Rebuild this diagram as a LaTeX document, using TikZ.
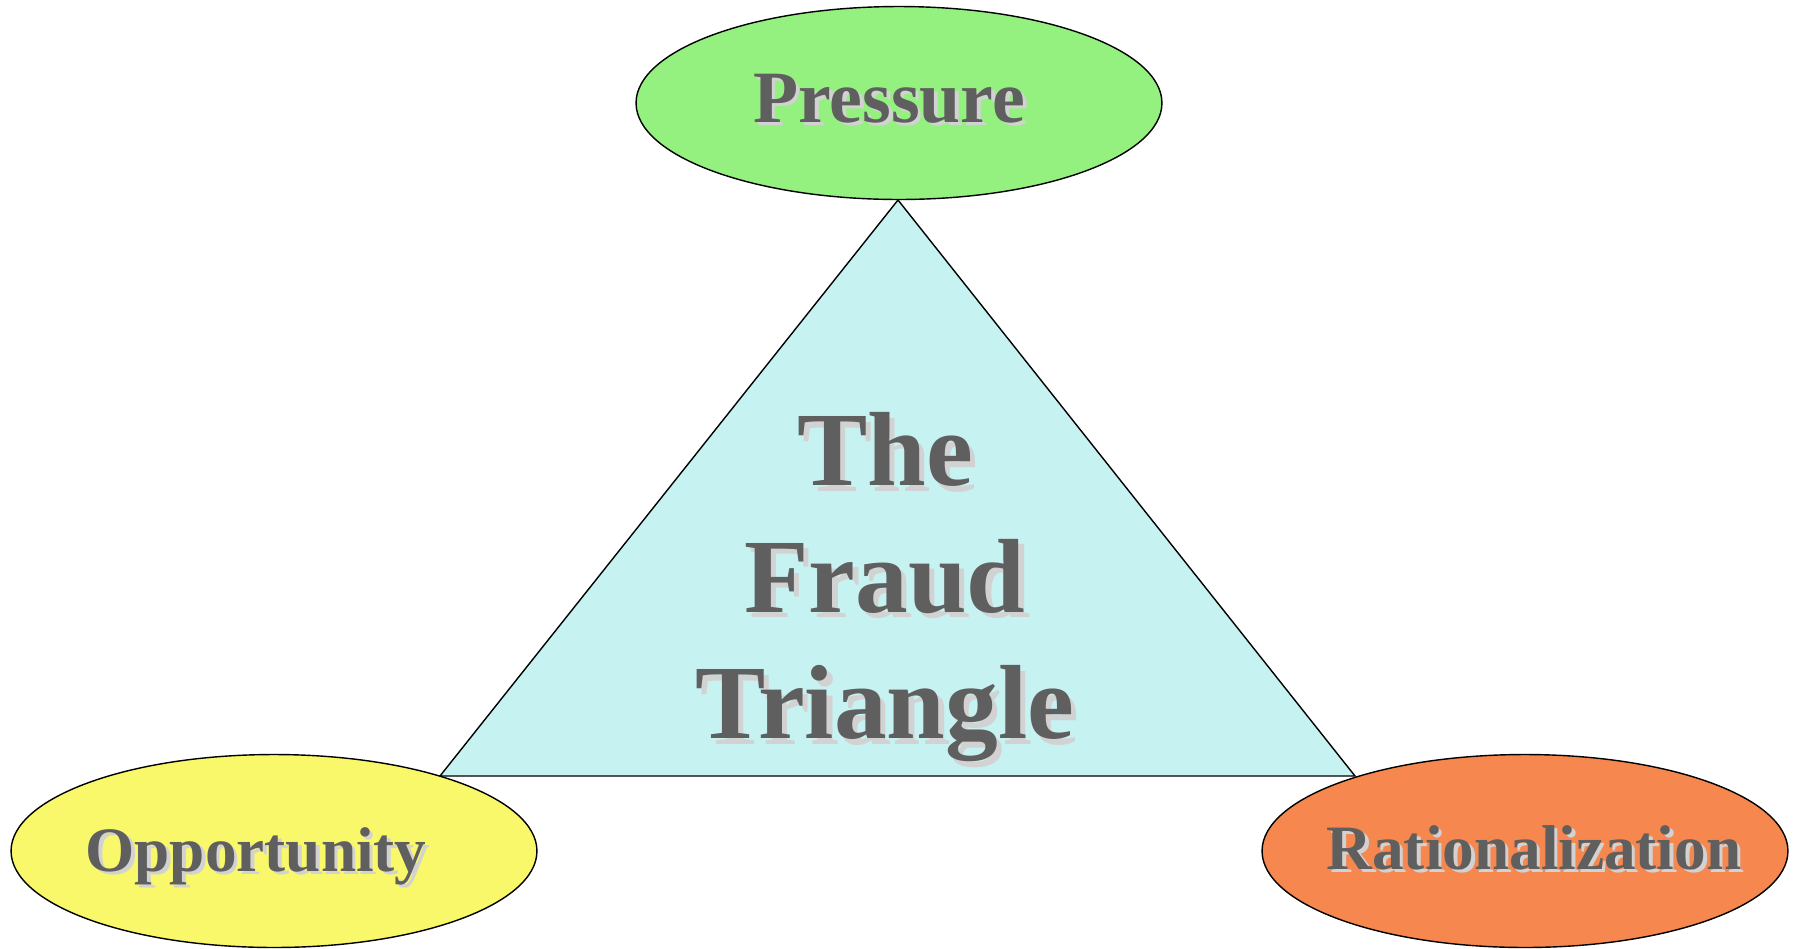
\documentclass[tikz,border=0pt]{standalone}
\usepackage{fontspec}
\setmainfont{Liberation Serif}
\usetikzlibrary{shapes.geometric}
\definecolor{textgray}{HTML}{5F5F5F}
\definecolor{shadegray}{HTML}{D2D2D2}
\definecolor{pressgreen}{HTML}{94F07F}
\definecolor{oppyellow}{HTML}{F8F86A}
\definecolor{ratorange}{HTML}{F5874F}
\definecolor{tricyan}{HTML}{C6F2F2}
\newcommand{\shtext}[2]{\rlap{\kern#1\raisebox{-#1}{\textcolor{shadegray}{#2}}}#2}

\begin{document}
\begin{tikzpicture}[x=0.02cm,y=-0.02cm,
    corner/.style={ellipse,draw,line width=0.8pt,minimum width=10.52cm,minimum height=3.86cm,inner sep=0pt},
    cornertext/.style={anchor=base,inner sep=0pt,text=textgray,font=\bfseries\fontsize{36}{42}\selectfont}]
    \useasboundingbox (0,0) rectangle (1800,948);

    \coordinate (apex) at (898,200);
    \coordinate (baseL) at (440,776);
    \coordinate (baseR) at (1355,776);
    \draw[fill=tricyan,line width=0.8pt] (apex) -- (baseL) -- (baseR) -- cycle;

    \node[corner,fill=pressgreen] (pressure) at (899,103) {};
    \node[corner,fill=oppyellow] (opportunity) at (274,851) {};
    \node[corner,fill=ratorange] (rational) at (1525,851) {};

    \node[cornertext,font=\bfseries\fontsize{42}{48}\selectfont] (pressuretxt) at (889,122) {\shtext{2.2pt}{Pressure}};
    \node[cornertext] (opportunitytxt) at (256,871) {\shtext{2pt}{Opportunity}};
    \node[cornertext] (rationaltxt) at (1534,869) {\shtext{2pt}{Rationalization}};

    \node[align=center,text=textgray,font=\bfseries\fontsize{60}{72}\selectfont] (fraud) at (885,590)
        {\shtext{3pt}{The}\\\shtext{3pt}{Fraud}\\\shtext{3pt}{Triangle}};
\end{tikzpicture}
\end{document}
